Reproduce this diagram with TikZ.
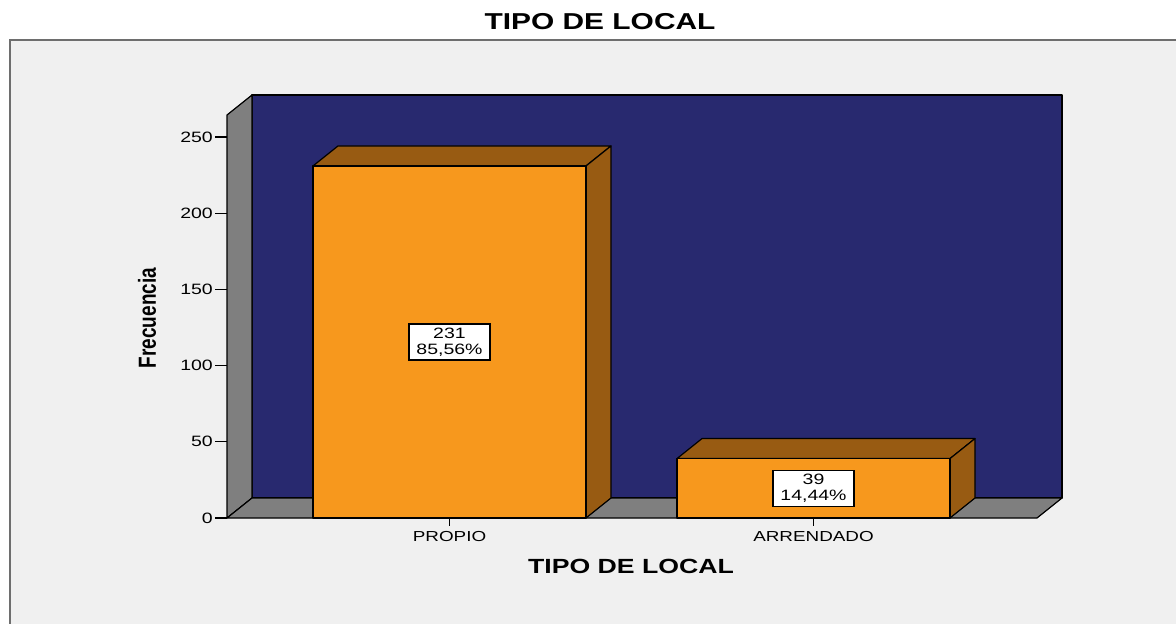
\documentclass[tikz,border=0pt]{standalone}
\usepackage{fontspec}
\setmainfont{Liberation Sans}[FakeStretch=1.3]
\newfontfamily\plainsans{Liberation Sans}
\usetikzlibrary{calc}

\definecolor{panelgray}{HTML}{F0F0F0}
\definecolor{panelline}{HTML}{6E6E6E}
\definecolor{wallblue}{HTML}{28296F}
\definecolor{wallgray}{HTML}{7F7F7F}
\definecolor{barfront}{HTML}{F7981D}
\definecolor{barshade}{HTML}{985B12}

\begin{document}
\begin{tikzpicture}[x=1pt, y=-1pt,
    face/.style={draw=black, line width=1.2pt, line join=round},
    ticklabel/.style={font=\fontsize{15}{16}\selectfont, anchor=east, inner sep=1pt},
    catlabel/.style={font=\fontsize{14.5}{16}\selectfont, inner sep=1pt},
    valuebox/.style={draw=black, line width=1.2pt, fill=white, align=center,
        font=\fontsize{15}{15.5}\selectfont, minimum width=81pt, minimum height=36pt, inner sep=1pt}]

    % --- Dimensions ---
    \def\ZeroY{518}
    \def\PxPerUnit{1.524}
    \def\DepthX{25}
    \def\DepthY{20}
    \def\WallL{227}
    \def\WallTop{115}
    \def\FloorR{1037}

    \useasboundingbox (0,0) rectangle (1176,624);
    \clip (0,0) rectangle (1176,624);

    % --- Panel ---
    \fill[white] (0,0) rectangle (1176,624);
    \draw[panelline, fill=panelgray, line width=2pt] (10,40) rectangle (1200,650);

    % --- Title ---
    \node[font=\fontsize{23}{26}\selectfont\bfseries] (title) at (600,22) {TIPO DE LOCAL};

    % --- Back wall, left wall and floor ---
    \draw[face, fill=wallblue]
        ({\WallL+\DepthX},{\WallTop-\DepthY}) rectangle ({\FloorR+\DepthX},{\ZeroY-\DepthY});
    \draw[face, fill=wallgray]
        (\WallL,\WallTop) -- ++(\DepthX,-\DepthY) -- ({\WallL+\DepthX},{\ZeroY-\DepthY})
        -- (\WallL,\ZeroY) -- cycle;
    \draw[face, fill=wallgray]
        (\WallL,\ZeroY) -- ++(\DepthX,-\DepthY) -- ({\FloorR+\DepthX},{\ZeroY-\DepthY})
        -- (\FloorR,\ZeroY) -- cycle;

    % --- Value axis ---
    \foreach \v in {0,50,...,250} {
        \pgfmathsetmacro{\ty}{\ZeroY - \PxPerUnit*\v}
        \draw[line width=1.2pt] (215,\ty) -- (\WallL,\ty);
        \node[ticklabel] (tick\v) at (214,\ty) {\v};
    }
    \node[rotate=90, font=\plainsans\fontsize{19}{22}\selectfont\bfseries] (ytitle) at (147,318)
        {\scalebox{1}[1.3]{Frecuencia}};

    % --- Bar 1: PROPIO ---
    \pgfmathsetmacro{\TopA}{\ZeroY - \PxPerUnit*231}
    \draw[face, fill=barshade]
        (313,\TopA) -- ++(\DepthX,-\DepthY) -- ++(273,0) -- (586,\TopA) -- cycle;
    \draw[face, fill=barshade]
        (586,\TopA) -- ++(\DepthX,-\DepthY) -- ({586+\DepthX},{\ZeroY-\DepthY}) -- (586,\ZeroY) -- cycle;
    \draw[face, fill=barfront] (313,\TopA) rectangle (586,\ZeroY);
    \node[valuebox] (lblA) at ({(313+586)/2},{(\TopA+\ZeroY)/2}) {231\\85,56\%};

    % --- Bar 2: ARRENDADO ---
    \pgfmathsetmacro{\TopB}{\ZeroY - \PxPerUnit*39}
    \draw[face, fill=barshade]
        (677,\TopB) -- ++(\DepthX,-\DepthY) -- ++(273,0) -- (950,\TopB) -- cycle;
    \draw[face, fill=barshade]
        (950,\TopB) -- ++(\DepthX,-\DepthY) -- ({950+\DepthX},{\ZeroY-\DepthY}) -- (950,\ZeroY) -- cycle;
    \draw[face, fill=barfront] (677,\TopB) rectangle (950,\ZeroY);
    \node[valuebox] (lblB) at ({(677+950)/2},{(\TopB+\ZeroY)/2}) {39\\14,44\%};

    % --- Category axis ---
    \draw[line width=1.2pt] (449.5,\ZeroY) -- (449.5,526);
    \draw[line width=1.2pt] (813.5,\ZeroY) -- (813.5,526);
    \node[catlabel] (catA) at (449.5,537) {PROPIO};
    \node[catlabel] (catB) at (813.5,537) {ARRENDADO};
    \node[font=\fontsize{20.5}{24}\selectfont\bfseries] (xtitle) at (631,566) {TIPO DE LOCAL};

\end{tikzpicture}
\end{document}
